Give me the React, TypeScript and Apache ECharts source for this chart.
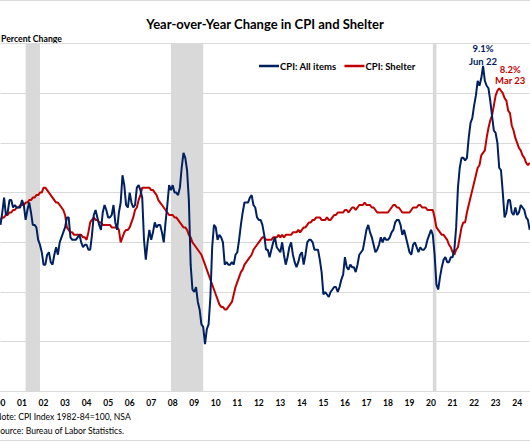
import React, { useEffect, useRef } from "react";
import * as echarts from "echarts";

// Monthly CPI-U year-over-year % change, Jan 2000 – Aug 2024
const cpiAllItems: number[] = [
  2.7, 3.2, 3.8, 3.1, 3.2, 3.7, 3.7, 3.4, 3.5, 3.4, 3.4, 3.4,
  3.7, 3.5, 2.9, 3.3, 3.6, 3.2, 2.7, 2.7, 2.6, 2.1, 1.9, 1.6,
  1.1, 1.1, 1.5, 1.6, 1.2, 1.1, 1.5, 1.8, 1.5, 2.0, 2.2, 2.4,
  2.6, 3.0, 3.0, 2.2, 2.1, 2.1, 2.1, 2.2, 2.3, 2.0, 1.8, 1.9,
  1.9, 1.7, 1.7, 2.3, 3.1, 3.3, 3.0, 2.7, 2.5, 3.2, 3.5, 3.3,
  3.0, 3.0, 3.1, 3.5, 2.8, 2.5, 3.2, 3.6, 4.7, 4.3, 3.5, 3.4,
  4.0, 3.6, 3.4, 3.5, 4.2, 4.3, 4.1, 3.8, 2.1, 1.3, 2.0, 2.5,
  2.1, 2.4, 2.8, 2.6, 2.7, 2.7, 2.4, 2.0, 2.8, 3.5, 4.3, 4.1,
  4.3, 4.0, 4.0, 3.9, 4.2, 5.0, 5.6, 5.4, 4.9, 3.7, 1.1, 0.1,
  0.0, 0.2, -0.4, -0.7, -1.3, -1.4, -2.1, -1.5, -1.3, -0.2, 1.8, 2.7,
  2.6, 2.1, 2.3, 2.2, 2.0, 1.1, 1.2, 1.1, 1.1, 1.2, 1.1, 1.5,
  1.6, 2.1, 2.7, 3.2, 3.6, 3.6, 3.6, 3.8, 3.9, 3.5, 3.4, 3.0,
  2.9, 2.9, 2.7, 2.3, 1.7, 1.7, 1.4, 1.7, 2.0, 2.2, 1.8, 1.7,
  1.6, 2.0, 1.5, 1.1, 1.4, 1.8, 2.0, 1.5, 1.2, 1.0, 1.2, 1.5,
  1.6, 1.1, 1.5, 2.0, 2.1, 2.1, 2.0, 1.7, 1.7, 1.7, 1.3, 0.8,
  -0.1, 0.0, -0.1, -0.2, 0.0, 0.1, 0.2, 0.2, 0.0, 0.2, 0.5, 0.7,
  1.4, 1.0, 0.9, 1.1, 1.0, 1.0, 0.8, 1.1, 1.5, 1.6, 1.7, 2.1,
  2.5, 2.7, 2.4, 2.2, 1.9, 1.6, 1.7, 1.9, 2.2, 2.0, 2.2, 2.1,
  2.1, 2.2, 2.4, 2.5, 2.8, 2.9, 2.9, 2.7, 2.3, 2.5, 2.2, 1.9,
  1.6, 1.5, 1.9, 2.0, 1.8, 1.6, 1.8, 1.7, 1.7, 1.8, 2.1, 2.3,
  2.5, 2.3, 1.5, 0.3, 0.1, 0.6, 1.0, 1.3, 1.4, 1.2, 1.2, 1.4,
  1.4, 1.7, 2.6, 4.2, 5.0, 5.4, 5.4, 5.3, 5.4, 6.2, 6.8, 7.0,
  7.5, 7.9, 8.5, 8.3, 8.6, 9.1, 8.5, 8.3, 8.2, 7.7, 7.1, 6.5,
  6.4, 6.0, 5.0, 4.9, 4.0, 3.0, 3.2, 3.7, 3.7, 3.2, 3.1, 3.4,
  3.1, 3.2, 3.5, 3.4, 3.3, 3.0, 2.9, 2.5,
];

// Monthly CPI Shelter year-over-year % change, Jan 2000 – Aug 2024
const shelterValues: number[] = [
  2.9, 3.0, 3.0, 3.1, 3.1, 3.2, 3.2, 3.3, 3.3, 3.4, 3.4, 3.5,
  3.5, 3.5, 3.6, 3.6, 3.7, 3.7, 3.8, 3.8, 3.9, 3.9, 4.0, 4.0,
  4.2, 4.2, 4.1, 4.0, 3.9, 3.8, 3.7, 3.6, 3.6, 3.5, 3.4, 3.3,
  3.1, 2.6, 2.5, 2.4, 2.4, 2.3, 2.3, 2.3, 2.3, 2.3, 2.2, 2.2,
  2.1, 2.4, 2.8, 2.9, 3.0, 2.9, 2.9, 2.8, 2.8, 2.7, 2.7, 2.7,
  2.7, 2.7, 2.6, 2.6, 2.6, 2.6, 2.5, 2.0, 2.2, 2.4, 2.5, 2.5,
  2.6, 2.8, 3.0, 3.3, 3.4, 3.7, 3.9, 4.2, 4.2, 4.2, 4.2, 4.2,
  4.1, 4.1, 4.0, 3.9, 3.7, 3.6, 3.5, 3.4, 3.3, 3.2, 3.1, 3.1,
  3.1, 3.0, 3.0, 2.9, 2.8, 2.7, 2.6, 2.6, 2.5, 2.3, 2.2, 2.0,
  1.9, 1.8, 1.7, 1.6, 1.5, 1.3, 1.1, 0.9, 0.7, 0.5, 0.3, 0.1,
  -0.1, -0.3, -0.5, -0.6, -0.6, -0.7, -0.7, -0.6, -0.5, -0.4, -0.1, 0.2,
  0.4, 0.6, 0.8, 0.9, 1.1, 1.2, 1.3, 1.4, 1.5, 1.7, 1.8, 1.9,
  2.0, 2.1, 2.2, 2.2, 2.1, 2.1, 2.1, 2.1, 2.2, 2.2, 2.2, 2.3,
  2.2, 2.3, 2.2, 2.3, 2.3, 2.3, 2.3, 2.4, 2.4, 2.4, 2.5, 2.4,
  2.5, 2.6, 2.6, 2.7, 2.8, 2.8, 2.9, 2.9, 3.0, 3.0, 3.0, 2.9,
  2.9, 2.9, 3.0, 2.9, 2.9, 3.0, 3.1, 3.1, 3.2, 3.2, 3.2, 3.2,
  3.3, 3.3, 3.2, 3.3, 3.4, 3.4, 3.3, 3.4, 3.5, 3.5, 3.5, 3.6,
  3.5, 3.5, 3.5, 3.4, 3.4, 3.3, 3.2, 3.2, 3.2, 3.2, 3.2, 3.2,
  3.2, 3.3, 3.4, 3.5, 3.5, 3.4, 3.4, 3.3, 3.2, 3.2, 3.2, 3.2,
  3.2, 3.3, 3.4, 3.4, 3.4, 3.5, 3.5, 3.4, 3.4, 3.4, 3.3, 3.3,
  3.3, 3.3, 3.0, 2.6, 2.5, 2.4, 2.3, 2.3, 2.2, 2.1, 1.9, 1.8,
  1.6, 1.5, 1.7, 1.8, 2.2, 2.6, 2.8, 2.8, 3.2, 3.5, 3.8, 4.1,
  4.4, 4.7, 5.0, 5.1, 5.5, 5.6, 5.7, 6.2, 6.6, 6.9, 7.1, 7.5,
  7.9, 8.1, 8.2, 8.1, 8.0, 7.8, 7.7, 7.3, 7.2, 6.7, 6.5, 6.2,
  6.0, 5.8, 5.7, 5.5, 5.4, 5.2, 5.1, 5.2,
];

const startYear = 2000;
const months: string[] = cpiAllItems.map((_, i) => {
  const y = startYear + Math.floor(i / 12);
  const m = (i % 12) + 1;
  return `${y}-${m < 10 ? "0" + m : m}`;
});

// NBER recessions (start month, end month)
const recessions: [string, string][] = [
  ["2001-03", "2001-11"],
  ["2007-12", "2009-06"],
  ["2020-02", "2020-04"],
];

const cpiPeak = { month: "2022-06", value: 9.1, label: "9.1%\nJun 22" };
const shelterPeak = { month: "2023-03", value: 8.2, label: "8.2%\nMar 23" };

const titleText = "Year-over-Year Change in CPI and Shelter";
const yAxisTitle = "Percent Change";
const noteText = "Note: CPI Index 1982-84=100, NSA";
const sourceText = "Source: Bureau of Labor Statistics.";

const NAVY = "#002060";
const RED = "#c00000";
const GRID = "#d9d9d9";
const FONT = "Lato, 'Open Sans', sans-serif";

export default function App() {
  const ref = useRef<HTMLDivElement>(null);
  useEffect(() => {
    if (!ref.current) return;
    const chart = echarts.init(ref.current, undefined, { renderer: "svg" });
    chart.setOption({
      animation: false,
      backgroundColor: "#ffffff",
      textStyle: { fontFamily: FONT },
      title: {
        text: titleText,
        left: "center",
        top: 12,
        textStyle: { fontFamily: FONT, fontWeight: "bold", fontSize: 13, color: "#000" },
      },
      legend: {
        left: 254,
        top: 56,
        icon: "rect",
        itemWidth: 20,
        itemHeight: 2.5,
        itemGap: 8,
        textStyle: {
          fontFamily: FONT,
          fontWeight: "bold",
          fontSize: 9.5,
          color: "#000",
          padding: [0, 0, 0, -4],
        },
        data: ["CPI: All items", "CPI: Shelter"],
      },
      grid: {
        left: 0.5,
        right: 0.3,
        top: 43.5,
        bottom: 50.6,
        containLabel: false,
        outerBoundsMode: "none",
      },
      xAxis: {
        type: "category",
        data: months,
        boundaryGap: false,
        axisLine: { show: true, onZero: false, lineStyle: { color: GRID, width: 1 } },
        axisTick: { show: false },
        splitLine: { show: false },
        axisLabel: {
          interval: (index: number) => index % 12 === 0,
          formatter: (v: string) => v.slice(2, 4),
          margin: 7,
          fontFamily: FONT,
          fontWeight: "bold",
          fontSize: 8.5,
          color: "#000",
        },
      },
      yAxis: {
        type: "value",
        min: -4,
        max: 10,
        interval: 2,
        axisLabel: { show: false },
        axisLine: { show: false },
        axisTick: { show: false },
        splitLine: { lineStyle: { color: GRID, width: 1 } },
      },
      series: [
        {
          name: "CPI: All items",
          type: "line",
          data: cpiAllItems,
          symbol: "none",
          lineStyle: { color: NAVY, width: 2 },
          itemStyle: { color: NAVY },
          z: 3,
          markArea: {
            silent: true,
            itemStyle: { color: GRID },
            data: recessions.map(([a, b]) => [{ xAxis: a }, { xAxis: b }]),
          },
          markPoint: {
            symbol: "circle",
            symbolSize: 0,
            silent: true,
            label: {
              show: true,
              position: "top",
              distance: 0,
              offset: [0, 1.5],
              formatter: cpiPeak.label,
              color: NAVY,
              fontFamily: FONT,
              fontWeight: "bold",
              fontSize: 9.5,
              lineHeight: 12.5,
              align: "center",
            },
            data: [{ coord: [cpiPeak.month, cpiPeak.value] }],
          },
        },
        {
          name: "CPI: Shelter",
          type: "line",
          data: shelterValues,
          symbol: "none",
          lineStyle: { color: RED, width: 2 },
          itemStyle: { color: RED },
          z: 2,
          markPoint: {
            symbol: "circle",
            symbolSize: 0,
            silent: true,
            label: {
              show: true,
              position: "top",
              distance: 2,
              offset: [11, 0],
              formatter: shelterPeak.label,
              color: RED,
              fontFamily: FONT,
              fontWeight: "bold",
              fontSize: 9.5,
              lineHeight: 11,
              align: "center",
            },
            data: [{ coord: [shelterPeak.month, shelterPeak.value] }],
          },
        },
      ],
      graphic: [
        { type: "line", shape: { x1: 0, y1: 0.5, x2: 530, y2: 0.5 }, style: { stroke: GRID, lineWidth: 1 } },
        { type: "line", shape: { x1: 0, y1: 440.5, x2: 530, y2: 440.5 }, style: { stroke: GRID, lineWidth: 1 } },
        {
          type: "text",
          x: 1,
          y: 38.5,
          style: { text: yAxisTitle, fontFamily: FONT, fontWeight: "bold", fontSize: 8.7, fill: "#000", verticalAlign: "middle" },
        },
        {
          type: "text",
          x: -5,
          y: 417,
          style: { text: noteText, fontFamily: FONT, fontSize: 8.6, fill: "#000", verticalAlign: "middle" },
        },
        {
          type: "text",
          x: -4.5,
          y: 431,
          style: { text: sourceText, fontFamily: FONT, fontSize: 8.6, fill: "#000", verticalAlign: "middle" },
        },
      ],
    });
    return () => chart.dispose();
  }, []);
  return (
    <div
      ref={ref}
      style={{ position: "absolute", left: 0, top: 0, width: 530, height: 442, background: "#fff" }}
    />
  );
}
